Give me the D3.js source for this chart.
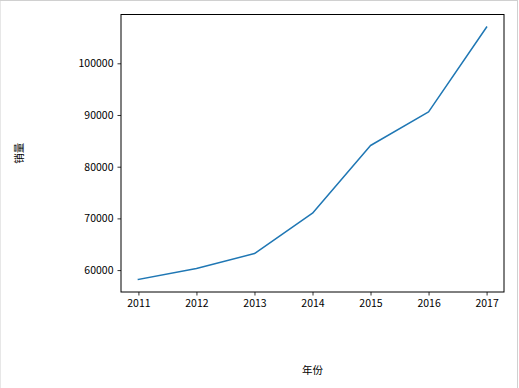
<!DOCTYPE html>
<html>
<head>
<meta charset="utf-8">
<script src="https://cdn.jsdelivr.net/npm/d3@7"></script>
<style>
  body { margin: 0; background: #fff; }
  text { font-family: "Noto Sans CJK SC", "DejaVu Sans", sans-serif; fill: #000; }
</style>
</head>
<body>
<div id="chart"></div>
<script>
// data
var years = [2011, 2012, 2013, 2014, 2015, 2016, 2017];
var sales = [58200, 60300, 63200, 71000, 84100, 90600, 107000];
var yTicks = [60000, 70000, 80000, 90000, 100000];
var xTitle = '年份', yTitle = '销量';

var w = 519, h = 388;
var margin = {top: 14.5, right: 15, bottom: 96, left: 121};
var innerW = 504 - margin.left,
    innerH = 292 - margin.top;

var svg = d3.select('#chart').append('svg')
    .attr('width', w)
    .attr('height', h);

// thin grey frame of the window
svg.append('line').attr('x1', 0).attr('x2', 0).attr('y1', 0).attr('y2', h)
    .attr('stroke', '#d0d0d0');
svg.append('line').attr('x1', 0).attr('x2', 517.5).attr('y1', 0.5).attr('y2', 0.5)
    .attr('stroke', '#d0d0d0');
svg.append('line').attr('x1', 517.5).attr('x2', 517.5).attr('y1', 0).attr('y2', h)
    .attr('stroke', '#d0d0d0');

var g = svg.append('g')
    .attr('transform', 'translate(' + [margin.left, margin.top] + ')');

// matplotlib style 5% margins
var xPad = (d3.max(years) - d3.min(years)) * 0.05;
var yPad = (d3.max(sales) - d3.min(sales)) * 0.05;
var x = d3.scaleLinear()
    .domain([d3.min(years) - xPad, d3.max(years) + xPad])
    .range([0, innerW]);
var y = d3.scaleLinear()
    .domain([d3.min(sales) - yPad, d3.max(sales) + yPad])
    .range([innerH, 0]);

var line = d3.line()
    .x(function(d, i) { return x(years[i]); })
    .y(function(d) { return y(d); });

g.append('path')
    .datum(sales)
    .attr('d', line)
    .attr('fill', 'none')
    .attr('stroke', '#1f77b4')
    .attr('stroke-width', 1.5)
    .attr('stroke-linejoin', 'round')
    .attr('stroke-linecap', 'square');

// axes
var xAxis = g.append('g')
    .attr('transform', 'translate(0,' + innerH + ')')
    .call(d3.axisBottom(x).tickValues(years).tickFormat(d3.format('d'))
        .tickSize(3.5).tickPadding(4));
var yAxis = g.append('g')
    .call(d3.axisLeft(y).tickValues(yTicks).tickFormat(d3.format('d'))
        .tickSize(3.5).tickPadding(4));

[xAxis, yAxis].forEach(function(a) {
    a.select('.domain').remove();
    a.selectAll('line').attr('stroke', '#000').attr('stroke-width', 0.8);
    a.selectAll('text').attr('font-size', '10.5px')
        .style('font-family', '"Noto Sans CJK SC", "DejaVu Sans", sans-serif');
});

// frame around the plot
g.append('rect')
    .attr('width', innerW)
    .attr('height', innerH)
    .attr('fill', 'none')
    .attr('stroke', '#000')
    .attr('stroke-width', 1);

// titles
svg.append('text')
    .attr('x', margin.left + innerW / 2)
    .attr('y', 374)
    .attr('text-anchor', 'middle')
    .attr('font-size', '10.5px')
    .text(xTitle);

svg.append('text')
    .attr('transform', 'translate(23,' + (margin.top + innerH / 2) + ') rotate(-90)')
    .attr('text-anchor', 'middle')
    .attr('font-size', '10.5px')
    .text(yTitle);
</script>
</body>
</html>
